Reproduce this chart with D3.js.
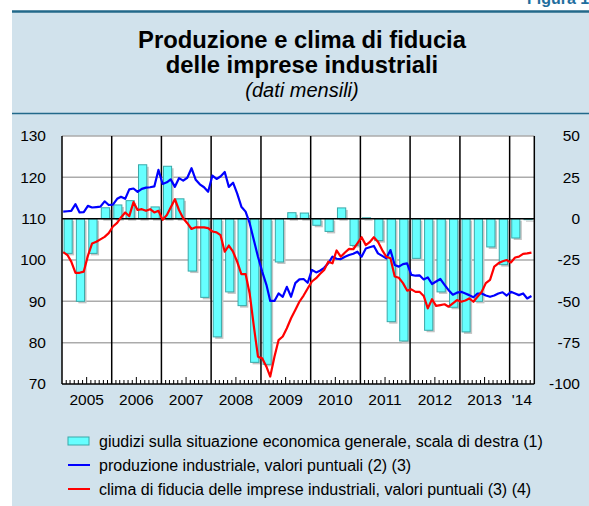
<!DOCTYPE html>
<html>
<head>
<meta charset="utf-8">
<script src="https://cdn.jsdelivr.net/npm/d3@7"></script>
<style>
  body { margin: 0; background: #fff; }
  svg { display: block; font-family: "Liberation Sans", Arial, sans-serif; }
</style>
</head>
<body>
<svg id="chart" width="589" height="506"></svg>
<script>
// year labels on the x axis
const yearLabels = ["2005", "2006", "2007", "2008", "2009", "2010", "2011", "2012", "2013", "'14"];
const leftTicks = [70, 80, 90, 100, 110, 120, 130];
const rightTicks = [-100, -75, -50, -25, 0, 25, 50];

// giudizi sulla situazione economica generale (quarterly, right scale), 2005Q1 - 2014Q2
const giudizi = [
  -21, -50, -21, 6.6,
  8.3, 10.9, 32.6, 7.1,
  31.7, 12, -31.7, -47.6,
  -71.5, -44.3, -52.6, -86.9,
  -88.1, -26.2, 3.6, 3.4,
  -4.0, -7.7, 6.5, -16.2,
  0.5, -13.3, -62.3, -74,
  -24, -67.5, -44.3, -53.6,
  -68.5, -50, -17.1, -27.8,
  -11.7, -0.6
];

// produzione industriale (monthly, left scale), Jan 2005 - Jun 2014
const produzione = [
  111.7, 111.8, 111.9, 113.5, 111.5, 111.6, 113.1, 112.7, 112.8, 112.9, 114.2, 113.3,
  113.4, 114.8, 115.3, 114.8, 117.1, 117.3, 116.5, 117.2, 117.5, 117.6, 117.8, 121.8,
  118.4, 118.8, 119.5, 117.7, 119.8, 119.2, 119.9, 122.2, 119.4, 118.3, 117.6, 116.5,
  120.4, 119.6, 120.2, 121.3, 117.7, 118.7, 116.1, 112.9, 111.7, 108.9, 104.8, 100.8,
  97.2, 94.0, 90.1, 90.1, 91.9, 91.1, 93.5, 91.1, 94.4, 95.3, 95.4, 94.5,
  97.6, 97.0, 97.4, 98.1, 99.2, 100.8, 100.3, 100.2, 100.8, 101.2, 101.5, 102.0,
  100.8, 102.8, 103.1, 103.4, 101.6, 101.0, 100.4, 102.4, 98.8, 98.4, 99.0, 99.2,
  96.4, 96.2, 96.3, 95.3, 95.8, 94.2, 94.8, 95.4, 94.0, 92.7, 91.6, 92.1,
  92.3, 91.9, 91.5, 91.0, 91.9, 91.9, 91.4, 91.1, 91.4, 91.9, 92.2, 91.4,
  92.3, 91.9, 91.5, 91.9, 90.7, 91.3
];

// clima di fiducia delle imprese industriali (monthly, left scale), Jan 2005 - Jun 2014
const clima = [
  101.9, 101.2, 99.6, 96.9, 96.9, 97.2, 101.0, 104.0, 104.4, 105.0, 105.6, 106.5,
  108.1, 109.0, 110.3, 111.5, 110.6, 114.0, 112.1, 112.3, 111.9, 112.3, 111.5, 111.9,
  109.7, 110.9, 112.7, 114.7, 112.1, 110.1, 108.9, 107.5, 107.9, 107.9, 107.9, 107.7,
  106.9, 106.7, 106.0, 102.0, 103.5, 102.0, 99.6, 96.6, 96.6, 91.9, 83.9, 76.6,
  76.2, 74.2, 71.8, 76.6, 80.6, 81.5, 83.5, 85.9, 87.9, 89.9, 91.4, 93.1,
  94.8, 95.6, 96.6, 97.6, 99.6, 99.2, 102.3, 100.8, 101.8, 102.7, 102.6, 104.0,
  105.5, 103.6, 104.3, 105.5, 104.4, 102.4, 100.8, 100.4, 96.0, 95.7, 94.4, 92.6,
  92.9, 92.3, 92.3, 91.3, 88.3, 90.5, 88.9, 89.1, 89.3, 88.7, 89.5, 90.3,
  89.9, 90.2, 90.7, 89.9, 91.1, 92.3, 94.4, 95.2, 98.4, 99.2, 99.7, 100.0,
  99.4, 100.6, 100.8, 101.5, 101.6, 101.8
];

const svg = d3.select("#chart");

// panel background
svg.append("rect")
  .attr("x", 12).attr("y", 11)
  .attr("width", 577).attr("height", 495)
  .attr("fill", "#d1e2ec");
svg.append("line")
  .attr("x1", 12).attr("x2", 589).attr("y1", 11.5).attr("y2", 11.5)
  .attr("stroke", "#22698a").attr("stroke-width", 2.5);
svg.append("line")
  .attr("x1", 12).attr("x2", 589).attr("y1", 113.5).attr("y2", 113.5)
  .attr("stroke", "#22698a").attr("stroke-width", 1.5);

// figure number, cut at the top and right like the original
svg.append("text")
  .attr("x", 527).attr("y", 4)
  .style("font-size", "16px").style("font-weight", "bold")
  .style("fill", "#1f6e9e")
  .text("Figura 13");

// title
svg.append("text")
  .attr("x", 302).attr("y", 48)
  .attr("text-anchor", "middle")
  .style("font-size", "23.8px").style("font-weight", "bold")
  .text("Produzione e clima di fiducia");
svg.append("text")
  .attr("x", 302).attr("y", 73)
  .attr("text-anchor", "middle")
  .style("font-size", "23.8px").style("font-weight", "bold")
  .text("delle imprese industriali");
svg.append("text")
  .attr("x", 302).attr("y", 97)
  .attr("text-anchor", "middle")
  .style("font-size", "20px").style("font-style", "italic")
  .text("(dati mensili)");

// plot area
const plotL = 62, plotR = 534.3, plotT = 136, plotB = 384;

const x = d3.scaleTime()
  .domain([new Date(2005, 0, 1), new Date(2014, 6, 1)])
  .range([plotL, plotR]);
const yL = d3.scaleLinear().domain([70, 130]).range([plotB, plotT]);
const yR = d3.scaleLinear().domain([-100, 50]).range([plotB, plotT]);

svg.append("rect")
  .attr("x", plotL).attr("y", plotT)
  .attr("width", plotR - plotL).attr("height", plotB - plotT)
  .attr("fill", "#fff");

// horizontal grid
svg.selectAll(".grid")
  .data(leftTicks.filter(d => d !== 70 && d !== 110))
  .enter().append("line")
  .attr("x1", plotL).attr("x2", plotR)
  .attr("y1", d => yL(d)).attr("y2", d => yL(d))
  .attr("stroke", "#ababab").attr("stroke-width", 1.5);

// bars (quarterly), with a small grey shadow
const qx = (i, m) => {
  const a = x(new Date(2005, i * 3, 1)), b = x(new Date(2005, i * 3 + 3, 1));
  return a + (b - a) * m;
};

const bars = svg.append("g");
giudizi.forEach((v, i) => {
  const x0 = qx(i, 0.17), x1 = qx(i, 0.83);
  const y0 = Math.min(yR(0), yR(v)), h = Math.abs(yR(v) - yR(0));
  bars.append("rect")
    .attr("x", x0 + 2).attr("y", y0 + 2)
    .attr("width", x1 - x0).attr("height", h)
    .attr("fill", "#c4c4c4");
  bars.append("rect")
    .attr("x", x0).attr("y", y0)
    .attr("width", x1 - x0).attr("height", h)
    .attr("fill", "#66ffff")
    .attr("stroke", "#3aa8a8").attr("stroke-width", 1);
});

// zero line
svg.append("line")
  .attr("x1", plotL).attr("x2", plotR)
  .attr("y1", yL(110)).attr("y2", yL(110))
  .attr("stroke", "#000").attr("stroke-width", 1.5);

// year separators
const yearStarts = d3.range(2006, 2015).map(y => new Date(y, 0, 1));
svg.selectAll(".yearline")
  .data(yearStarts)
  .enter().append("line")
  .attr("x1", d => x(d)).attr("x2", d => x(d))
  .attr("y1", plotT).attr("y2", plotB)
  .attr("stroke", "#000").attr("stroke-width", 1.5);

// series lines
const monthDate = i => new Date(2005, i, 10);
const line = d3.line()
  .x((d, i) => x(monthDate(i)))
  .y(d => yL(d));

svg.append("path")
  .datum(produzione)
  .attr("d", line)
  .attr("fill", "none")
  .attr("stroke", "#0000ff").attr("stroke-width", 2.2)
  .attr("stroke-linejoin", "round");

svg.append("path")
  .datum(clima)
  .attr("d", line)
  .attr("fill", "none")
  .attr("stroke", "#ff0000").attr("stroke-width", 2.2)
  .attr("stroke-linejoin", "round");

// frame
svg.append("line")
  .attr("x1", plotL).attr("x2", plotL).attr("y1", plotT).attr("y2", plotB)
  .attr("stroke", "#000").attr("stroke-width", 1.5);
svg.append("line")
  .attr("x1", plotR).attr("x2", plotR).attr("y1", plotT).attr("y2", plotB)
  .attr("stroke", "#000").attr("stroke-width", 1.5);
svg.append("line")
  .attr("x1", plotL).attr("x2", plotR).attr("y1", plotB).attr("y2", plotB)
  .attr("stroke", "#000").attr("stroke-width", 1.5);

// monthly ticks on the bottom axis
const months = d3.timeMonth.range(new Date(2005, 1, 1), new Date(2014, 6, 1))
  .filter(d => d.getMonth() !== 0);
svg.selectAll(".mtick")
  .data(months)
  .enter().append("line")
  .attr("x1", d => x(d)).attr("x2", d => x(d))
  .attr("y1", plotB).attr("y2", d => plotB - (d.getMonth() === 6 ? 7 : 4))
  .attr("stroke", "#000").attr("stroke-width", 1);

// axis labels
svg.selectAll(".lt")
  .data(leftTicks)
  .enter().append("text")
  .attr("x", 46).attr("y", d => yL(d))
  .attr("dy", "0.35em")
  .attr("text-anchor", "end")
  .style("font-size", "15.5px")
  .text(d => d);

svg.selectAll(".rt")
  .data(rightTicks)
  .enter().append("text")
  .attr("x", 580).attr("y", d => yR(d))
  .attr("dy", "0.35em")
  .attr("text-anchor", "end")
  .style("font-size", "15.5px")
  .text(d => d);

svg.selectAll(".xt")
  .data(yearLabels)
  .enter().append("text")
  .attr("x", (d, i) => i < 9 ? x(new Date(2005 + i, 6, 1)) : x(new Date(2014, 3, 1)))
  .attr("y", 405)
  .attr("text-anchor", "middle")
  .style("font-size", "15.5px")
  .text(d => d);

// legend
const lg = svg.append("g");
lg.append("rect")
  .attr("x", 68).attr("y", 437).attr("width", 21).attr("height", 8)
  .attr("fill", "#66ffff").attr("stroke", "#3aa8a8");
lg.append("line")
  .attr("x1", 68).attr("x2", 90).attr("y1", 465).attr("y2", 465)
  .attr("stroke", "#0000ff").attr("stroke-width", 2);
lg.append("line")
  .attr("x1", 68).attr("x2", 90).attr("y1", 489).attr("y2", 489)
  .attr("stroke", "#ff0000").attr("stroke-width", 2);

const legendText = [
  "giudizi sulla situazione economica generale, scala di destra (1)",
  "produzione industriale, valori puntuali (2) (3)",
  "clima di fiducia delle imprese industriali, valori puntuali (3) (4)"
];
lg.selectAll(".lg")
  .data(legendText)
  .enter().append("text")
  .attr("x", 99).attr("y", (d, i) => 441 + i * 24)
  .attr("dy", "0.35em")
  .style("font-size", "16px")
  .text(d => d);
</script>
</body>
</html>
